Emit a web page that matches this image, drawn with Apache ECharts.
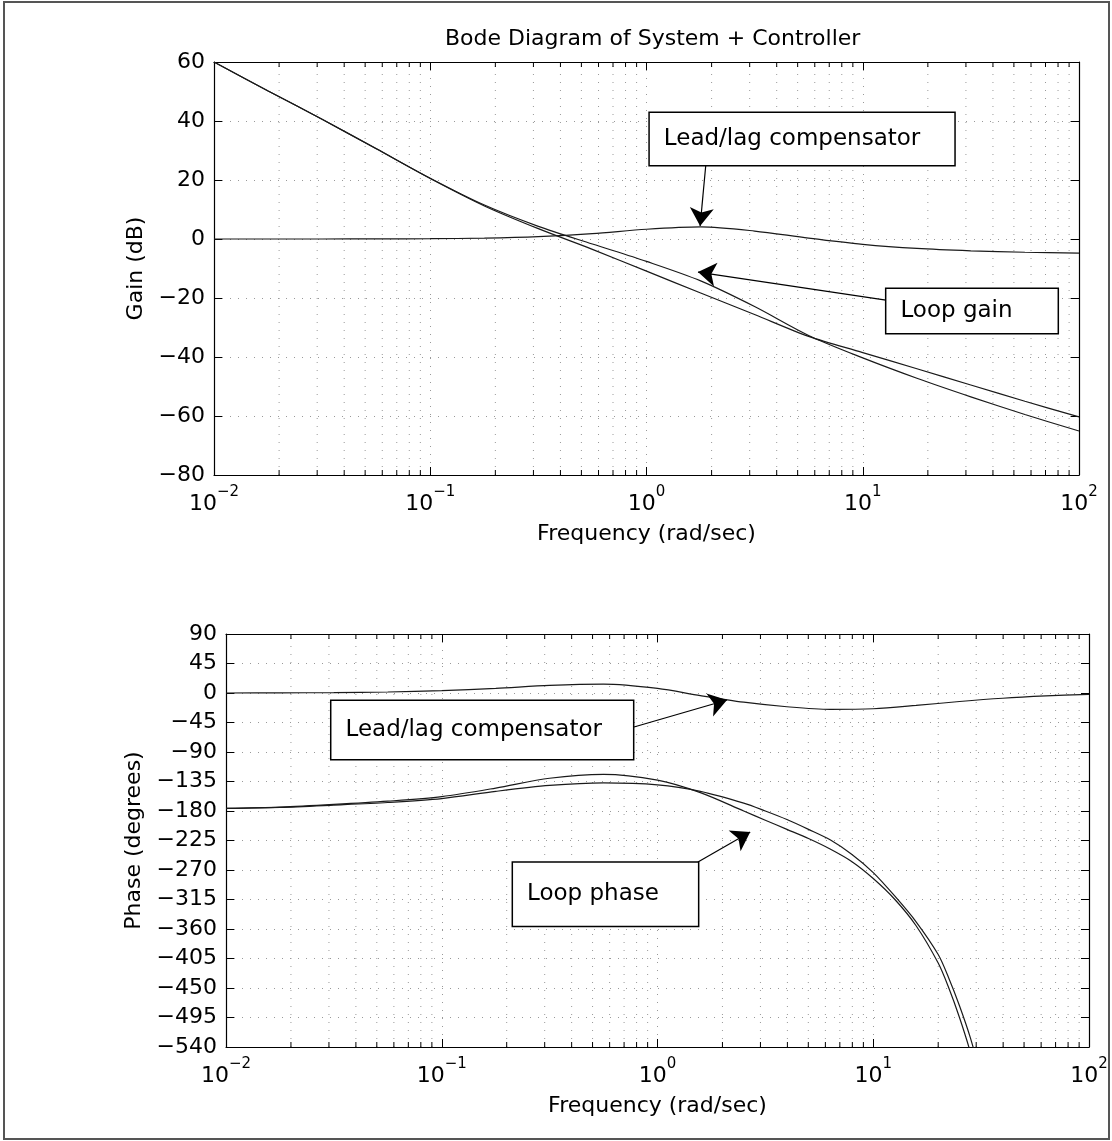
<!DOCTYPE html>
<html>
<head>
<meta charset="utf-8">
<script src="https://cdn.jsdelivr.net/npm/echarts@6/dist/echarts.min.js"></script>
<style>
html,body{margin:0;padding:0;background:#fff;}
#bode{width:1112px;height:1141px;}
</style>
</head>
<body>
<div id="bode"></div>
<script>
// values (frequency in rad/sec)
var gainFreq=[0.01,0.0178,0.0316,0.0562,0.1,0.178,0.316,0.562,1,1.78,3.16,5.62,10,17.8,31.6,56.2,100];
var plantGain=[60,50.2,40.6,30.6,20.5,11.2,3.5,-3.5,-10.9,-18.3,-25.6,-33,-38.5,-44,-49.5,-55,-60.3];
var loopGain=[60,50.2,40.6,30.65,20.6,11.5,4.3,-1.7,-7.6,-14.2,-22.9,-32.7,-40.3,-47.2,-53.5,-59.5,-65.1];
var compGain=[0,0,0,0.05,0.1,0.3,0.8,1.8,3.3,4.1,2.7,0.3,-1.8,-3.2,-4.0,-4.5,-4.8];

var phaseFreq=[0.01,0.0178,0.0316,0.0562,0.1,0.178,0.316,0.562,1,1.58,2.51,3.16,3.98,5.01,6.31,7.94,10,12.6,15.8,20,22.4,25.1,28.2,31.6];
var loopPhase=[-176,-174,-170,-165,-158,-145,-130,-124,-133,-152,-180,-194,-208,-222,-238,-257,-283,-315,-355,-412,-450,-495,-548,-610];
var plantPhase=[-176,-174.5,-171,-167,-161,-150,-141,-137,-140,-150,-168,-180,-193,-208,-224,-246,-274,-310,-349,-399,-435,-477,-526,-585];

var compPhaseFreq=[0.01,0.0178,0.0316,0.0562,0.1,0.178,0.316,0.562,1,1.58,2.51,3.98,6.31,10,15.8,25.1,39.8,63.1,100];
var compPhase=[0,0.3,0.6,1.5,3.5,7,11.5,13.5,7,-4,-14,-21,-25,-24,-19,-13,-8,-4.5,-2];

var decadeExp=[-2,-1,0,1,2];
var minorFreq=[0.02,0.03,0.04,0.05,0.06,0.07,0.08,0.09,0.2,0.3,0.4,0.5,0.6,0.7,0.8,0.9,
               2,3,4,5,6,7,8,9,20,30,40,50,60,70,80,90];

var gainRange=[-80,60,20];
var phaseRange=[-540,90,45];

// annotations: text, box anchor, arrow tail, arrow tip (data coords)
var gainNotes=['Lead/lag compensator','Loop gain'];
var gainNoteAt=[[5.24,33.9],[32,-24.4]];
var gainArrowFrom=[[1.88,25.1],[12.8,-20.7]];
var gainArrowTo=[[1.77,4.4],[1.73,-11.2]];

var phaseNotes=['Lead/lag compensator','Loop phase'];
var phaseNoteAt=[[0.154,-56.4],[0.574,-307]];
var phaseArrowFrom=[[0.778,-51.9],[1.54,-257.8]];
var phaseArrowTo=[[2.10,-10.7],[2.69,-212]];

var FONT='DejaVu Sans';
var MINUS='\u2212';
var bode=echarts.init(document.getElementById('bode'));

function pairs(xs,ys){
	var out=[];
	for(var i=0;i<xs.length;i++) out.push([xs[i],ys[i]]);
	return out;
}

function fmtY(v){ return v<0 ? MINUS+(-v) : String(v); }

function fmtX(v){
	var e=Math.round(Math.log(v)/Math.LN10);
	if(decadeExp.indexOf(e)<0) return '';
	return '{b|10}{s|'+(e<0 ? MINUS+(-e) : e)+'}';
}

var dotted={color:'#999',width:1,type:[1,7]};
var nameStyle={fontFamily:FONT,fontSize:22,color:'#000'};

function xAxis(grid,pos,main){
	return {
		type:'log',logBase:10,gridIndex:grid,position:pos,min:0.01,max:100,
		axisLine:{show:true,onZero:false,lineStyle:{color:'#000',width:1.2}},
		axisTick:{show:true,inside:true,length:8,lineStyle:{color:'#000'}},
		axisLabel:{show:main,margin:10,formatter:fmtX,rich:{
			b:{fontFamily:FONT,fontSize:22,color:'#000',lineHeight:30,verticalAlign:'bottom'},
			s:{fontFamily:FONT,fontSize:15,color:'#000',lineHeight:30,verticalAlign:'top'}
		}},
		splitLine:{show:main,lineStyle:dotted},
		name:main?'Frequency (rad/sec)':'',nameLocation:'middle',nameGap:48,nameTextStyle:nameStyle
	};
}

function yAxis(grid,pos,main,range,name,gap){
	return {
		type:'value',gridIndex:grid,position:pos,min:range[0],max:range[1],interval:range[2],
		axisLine:{show:true,onZero:false,lineStyle:{color:'#000',width:1.2}},
		axisTick:{show:true,inside:true,length:8,lineStyle:{color:'#000'}},
		axisLabel:{show:main,margin:9,formatter:fmtY,fontFamily:FONT,fontSize:22,color:'#000'},
		splitLine:{show:main,lineStyle:dotted},
		name:main?name:'',nameLocation:'middle',nameGap:gap,nameTextStyle:nameStyle
	};
}

// dotted grid + short ticks at the 2..9 positions of every decade
function minorSeries(idx,range){
	return {
		type:'custom',xAxisIndex:idx,yAxisIndex:idx,silent:true,z:1,
		data:minorFreq.map(function(f){return [f,range[0]];}),
		renderItem:function(params,api){
			var f=api.value(0);
			var b=api.coord([f,range[0]]), t=api.coord([f,range[1]]);
			return {type:'group',children:[
				{type:'line',shape:{x1:b[0],y1:b[1],x2:t[0],y2:t[1]},style:{stroke:'#999',lineWidth:1,lineDash:[1,7]}},
				{type:'line',shape:{x1:b[0],y1:b[1],x2:b[0],y2:b[1]-5},style:{stroke:'#000',lineWidth:1}},
				{type:'line',shape:{x1:t[0],y1:t[1],x2:t[0],y2:t[1]+5},style:{stroke:'#000',lineWidth:1}}
			]};
		}
	};
}

// boxed text: the label itself is the white box, padding sets the box size
function notes(texts,at,pads){
	return texts.map(function(t,i){
		return {
			coord:at[i],symbol:'circle',symbolSize:1,itemStyle:{color:'rgba(0,0,0,0)'},
			label:{show:true,position:'inside',formatter:t,color:'#000',fontFamily:FONT,fontSize:23,lineHeight:28,
				padding:pads[i],backgroundColor:'#fff',borderColor:'#000',borderWidth:1.5}
		};
	});
}

function arrows(from,to){
	return from.map(function(f,i){ return [{coord:f},{coord:to[i]}]; });
}

function arrowLines(from,to){
	return {silent:true,animation:false,symbol:['none','arrow'],symbolSize:18,
		label:{show:false},lineStyle:{color:'#000',width:1.2,type:'solid'},
		itemStyle:{color:'#000'},data:arrows(from,to)};
}

function curve(idx,name,xs,ys){
	return {
		type:'line',name:name,xAxisIndex:idx,yAxisIndex:idx,data:pairs(xs,ys),
		symbol:'none',smooth:0.3,clip:true,z:3,
		lineStyle:{color:'#1a1a1a',width:1.2}
	};
}

var compG=curve(0,'Lead/lag compensator',gainFreq,compGain);
compG.markPoint={silent:true,animation:false,data:notes(gainNotes,gainNoteAt,[[6,34,18,14],[7,45,9,14]])};
compG.markLine=arrowLines(gainArrowFrom,gainArrowTo);

var compP=curve(1,'Lead/lag compensator',compPhaseFreq,compPhase);
compP.markPoint={silent:true,animation:false,data:notes(phaseNotes,phaseNoteAt,[[7,31,23,14],[6,39,29,14]])};
compP.markLine=arrowLines(phaseArrowFrom,phaseArrowTo);

var option={
	animation:false,
	backgroundColor:'#fff',
	title:{
		text:'Bode Diagram of System + Controller',left:440,top:23,
		textStyle:{fontFamily:FONT,fontSize:22,fontWeight:'normal',color:'#000'}
	},
	graphic:[{type:'rect',silent:true,shape:{x:4,y:2,width:1105,height:1137},style:{fill:'none',stroke:'#555',lineWidth:2}}],
	grid:[
		{left:214,top:62,width:865,height:413},
		{left:226,top:634,width:863,height:413}
	],
	xAxis:[xAxis(0,'bottom',true),xAxis(1,'bottom',true),xAxis(0,'top',false),xAxis(1,'top',false)],
	yAxis:[
		yAxis(0,'left',true,gainRange,'Gain (dB)',66),
		yAxis(1,'left',true,phaseRange,'Phase (degrees)',80),
		yAxis(0,'right',false,gainRange,'',0),
		yAxis(1,'right',false,phaseRange,'',0)
	],
	series:[
		minorSeries(0,gainRange),
		minorSeries(1,phaseRange),
		curve(0,'System',gainFreq,plantGain),
		curve(0,'Loop gain',gainFreq,loopGain),
		compG,
		curve(1,'System',phaseFreq,plantPhase),
		curve(1,'Loop phase',phaseFreq,loopPhase),
		compP
	]
};
bode.setOption(option);
</script>
</body>
</html>
